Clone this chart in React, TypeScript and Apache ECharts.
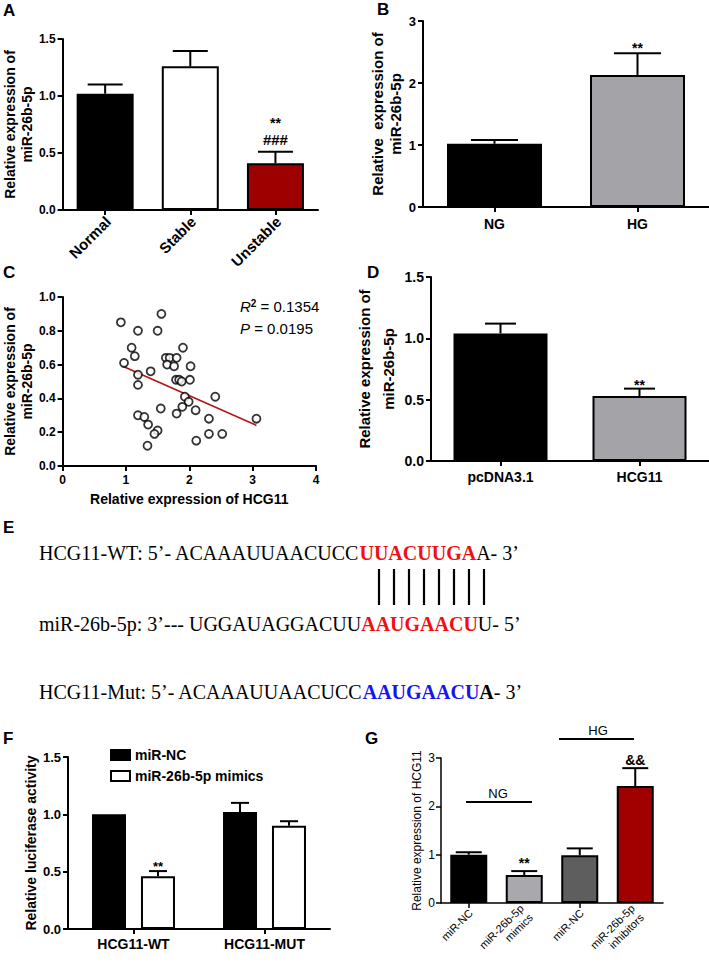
import React, { useEffect, useRef } from "react";
import * as echarts from "echarts";

// ---------- Panel A ----------
const aCats = ["Normal", "Stable", "Unstable"];
const aMeans = [1.02, 1.26, 0.41];
const aErrs = [0.08, 0.135, 0.1];
const aSigTop = ["", "", "**"];
const aSigLow = ["", "", "###"];

// ---------- Panel B ----------
const bCats = ["NG", "HG"];
const bMeans = [1.02, 2.13];
const bErrs = [0.06, 0.35];
const bSig = ["", "**"];

// ---------- Panel C ----------
const cX = [0.92, 1.56, 1.19, 1.5, 1.09, 1.9, 1.14, 0.97, 1.63, 1.69, 1.8, 1.65, 1.76, 2.02, 1.19, 1.39, 1.19, 1.79, 1.84, 1.88, 2.01, 1.93, 1.99, 2.41, 1.55, 1.8, 1.89, 2.1, 1.19, 1.29, 2.31, 1.35, 1.5, 1.45, 2.31, 2.52, 2.11, 1.34, 3.06];
const cY = [0.85, 0.9, 0.8, 0.8, 0.7, 0.7, 0.65, 0.61, 0.64, 0.64, 0.64, 0.6, 0.59, 0.59, 0.54, 0.56, 0.48, 0.51, 0.51, 0.5, 0.51, 0.41, 0.38, 0.41, 0.34, 0.31, 0.35, 0.33, 0.3, 0.29, 0.28, 0.245, 0.21, 0.19, 0.19, 0.19, 0.15, 0.12, 0.28];
const cFitX = [0.95, 3.06];
const cFitY = [0.59, 0.24];
const cR2 = "0.1354";
const cP = "0.0195";

// ---------- Panel D ----------
const dCats = ["pcDNA3.1", "HCG11"];
const dMeans = [1.04, 0.53];
const dErrs = [0.08, 0.06];
const dSig = ["", "**"];

// ---------- Panel E ----------
const seqWT = ["HCG11-WT: 5\u2019- ACAAAUUAACUCC", "UUACUUGA", "A- 3\u2019"];
const seqMiR = ["miR-26b-5p: 3\u2019--- UGGAUAGGACUU", "AAUGAACU", "U- 5\u2019"];
const seqMut = ["HCG11-Mut: 5\u2019- ACAAAUUAACUCC", "AAUGAACU", "A", "- 3\u2019"];
const pairCount = 8;

// ---------- Panel F ----------
const fCats = ["HCG11-WT", "HCG11-MUT"];
const fSeries = ["miR-NC", "miR-26b-5p mimics"];
const fNC = [1.0, 1.02];
const fNCErr = [0, 0.08];
const fMim = [0.46, 0.9];
const fMimErr = [0.045, 0.04];
const fSig = ["**", ""];

// ---------- Panel G ----------
const gCats = ["miR-NC", "miR-26b-5p\nmimics", "miR-NC", "miR-26b-5p\ninhibitors"];
const gMeans = [1.0, 0.58, 0.99, 2.42];
const gErrs = [0.05, 0.08, 0.14, 0.37];
const gSig = ["", "**", "", "&&"];
const gGroups = ["NG", "HG"];

const SANS = '"Liberation Sans", Arial, sans-serif';
const SERIF = '"Liberation Serif", "Times New Roman", serif';

function errSeries(name: string, idx: number, means: number[], errs: number[], opt: any) {
  return {
    type: "custom",
    name,
    xAxisIndex: idx,
    yAxisIndex: idx,
    silent: true,
    z: 5,
    clip: false,
    data: means.map((m, i) => [i, m, errs[i]]),
    renderItem: (params: any, api: any) => {
      const i = api.value(0);
      const m = api.value(1);
      const e = api.value(2);
      const b = api.coord([i, m]);
      const t = api.coord([i, m + e]);
      const x = b[0] + (opt.offset || 0);
      const lw = opt.lineWidth || 2;
      const ch: any[] = [];
      if (e > 0) {
        ch.push({ type: "line", shape: { x1: x, y1: b[1], x2: x, y2: t[1] }, style: { stroke: "#000", lineWidth: lw } });
        ch.push({ type: "line", shape: { x1: x - opt.cap / 2, y1: t[1], x2: x + opt.cap / 2, y2: t[1] }, style: { stroke: "#000", lineWidth: lw } });
      }
      (opt.labels || []).forEach((l: any) => {
        const s = l.texts[params.dataIndex];
        if (s) {
          ch.push({
            type: "text",
            style: { text: s, x, y: t[1] + l.dy, align: "center", verticalAlign: "middle", font: l.font, fill: "#000" },
          });
        }
      });
      return { type: "group", children: ch };
    },
  };
}

// rotated (45 deg) category labels placed through the axis scale
function rotLabels(name: string, idx: number, cats: string[], opt: any) {
  return {
    type: "custom",
    name,
    xAxisIndex: idx,
    yAxisIndex: idx,
    silent: true,
    clip: false,
    z: 6,
    data: cats.map((c, i) => [i, 0]),
    renderItem: (params: any, api: any) => {
      const p = api.coord([api.value(0), 0]);
      return {
        type: "text",
        x: p[0] + (opt.dx || 0),
        y: p[1] + opt.margin,
        rotation: Math.PI / 4,
        style: {
          text: cats[params.dataIndex],
          align: "right",
          verticalAlign: "middle",
          font: opt.font,
          lineHeight: opt.lineHeight,
          fill: "#000",
        },
      };
    },
  };
}

const axLine = (w = 2) => ({ show: true, onZero: false, lineStyle: { color: "#000", width: w } });
const axTick = (w = 2, len = 5, align = false) => ({ show: true, length: len, alignWithLabel: align, lineStyle: { color: "#000", width: w } });
const lbl = (size: number, weight: string, extra: any = {}) => ({
  color: "#000",
  fontFamily: SANS,
  fontWeight: weight,
  fontSize: size,
  ...extra,
});
const nameStyle = (size: number, weight: string, lh: number) => ({
  color: "#000",
  fontFamily: SANS,
  fontWeight: weight,
  fontSize: size,
  lineHeight: lh,
});

function buildOption() {
  const grids = [
    { left: 59, top: 39, width: 259, height: 171 }, // A
    { left: 423, top: 21, width: 286, height: 186 }, // B
    { left: 61, top: 297, width: 255, height: 169 }, // C
    { left: 431, top: 277, width: 278, height: 184 }, // D
    { left: 68, top: 757, width: 262, height: 172 }, // F
    { left: 441, top: 758, width: 222, height: 145 }, // G
  ];

  const catX = (gi: number, data: string[], label: any) => ({
    type: "category",
    gridIndex: gi,
    data,
    axisLine: axLine(gi === 5 ? 1.5 : 2),
    axisTick: axTick(gi === 5 ? 1.5 : 2, 5, true),
    axisLabel: label,
    splitLine: { show: false },
  });
  const valY = (gi: number, min: number, max: number, interval: number, dec: number, name: string, gap: number, ns: any, lab: any) => ({
    type: "value",
    gridIndex: gi,
    min,
    max,
    interval,
    axisLine: axLine(gi === 5 ? 1.5 : 2),
    axisTick: axTick(gi === 5 ? 1.5 : 2, 5),
    axisLabel: { ...lab, formatter: (v: number) => v.toFixed(dec) },
    splitLine: { show: false },
    name,
    nameLocation: "middle",
    nameGap: gap,
    nameTextStyle: ns,
  });

  const xAxis = [
    catX(0, aCats, { show: false }),
    catX(1, bCats, lbl(14, "bold", { margin: 10 })),
    {
      type: "value",
      gridIndex: 2,
      min: 0,
      max: 4,
      interval: 1,
      axisLine: axLine(2),
      axisTick: axTick(2, 5),
      axisLabel: lbl(12, "bold", { margin: 8 }),
      splitLine: { show: false },
      name: "Relative expression of HCG11",
      nameLocation: "middle",
      nameGap: 25,
      nameTextStyle: nameStyle(14, "bold", 16),
    },
    catX(3, dCats, lbl(14, "bold", { margin: 9 })),
    catX(4, fCats, lbl(14, "bold", { margin: 8 })),
    catX(5, gCats, { show: false }),
  ];

  const yAxis = [
    valY(0, 0, 1.5, 0.5, 1, "Relative expression of\nmiR-26b-5p", 25, nameStyle(14, "bold", 17), lbl(12, "bold", { margin: 7 })),
    valY(1, 0, 3, 1, 0, "Relative  expression of\nmiR-26b-5p", 17, nameStyle(15, "bold", 18.5), lbl(13, "bold", { margin: 7 })),
    valY(2, 0, 1, 0.2, 1, "Relative expression of\nmiR-26b-5p", 26, nameStyle(14, "bold", 17), lbl(12, "bold", { margin: 7 })),
    valY(3, 0, 1.5, 0.5, 1, "Relative expression of\nmiR-26b-5p", 25, nameStyle(15, "bold", 24), lbl(14, "bold", { margin: 7 })),
    valY(4, 0, 1.5, 0.5, 1, "Relative luciferase activity", 23, nameStyle(14, "bold", 16), lbl(13, "bold", { margin: 7 })),
    valY(5, 0, 3, 1, 0, "Relative expression of HCG11", 10, nameStyle(12, "normal", 14), lbl(12, "normal", { margin: 6 })),
  ];

  const aColors = ["#000000", "#ffffff", "#9e0000"];
  const bColors = ["#000000", "#a3a3a8"];
  const gColors = ["#000000", "#a8a8ad", "#5e5e5e", "#a00000"];
  const border = { borderColor: "#000", borderWidth: 2 };

  const series: any[] = [
    {
      type: "bar",
      name: "A-bars",
      xAxisIndex: 0,
      yAxisIndex: 0,
      barWidth: 57,
      data: aMeans.map((v, i) => ({ value: v, itemStyle: { color: aColors[i] } })),
      itemStyle: border,
    },
    errSeries("A-err", 0, aMeans, aErrs, {
      cap: 35,
      labels: [
        { texts: aSigTop, dy: -29, font: `bold 14px ${SANS}` },
        { texts: aSigLow, dy: -12, font: `bold 15px ${SANS}` },
      ],
    }),
    rotLabels("A-labels", 0, aCats, { margin: 9, dx: 3, font: `bold 15px ${SANS}` }),
    {
      type: "bar",
      name: "B-bars",
      xAxisIndex: 1,
      yAxisIndex: 1,
      barWidth: 95,
      data: bMeans.map((v, i) => ({ value: v, itemStyle: { color: bColors[i] } })),
      itemStyle: border,
    },
    errSeries("B-err", 1, bMeans, bErrs, { cap: 47, labels: [{ texts: bSig, dy: -5, font: `bold 14px ${SANS}` }] }),
    {
      type: "scatter",
      name: "C-points",
      xAxisIndex: 2,
      yAxisIndex: 2,
      symbol: "circle",
      symbolSize: 8,
      data: cX.map((x, i) => [x, cY[i]]),
      itemStyle: { color: "#ffffff", borderColor: "#000", borderWidth: 1.8 },
      z: 4,
    },
    {
      type: "line",
      name: "C-fit",
      xAxisIndex: 2,
      yAxisIndex: 2,
      symbol: "none",
      data: cFitX.map((x, i) => [x, cFitY[i]]),
      lineStyle: { color: "#b01515", width: 1.6 },
      z: 3,
    },
    {
      type: "bar",
      name: "D-bars",
      xAxisIndex: 3,
      yAxisIndex: 3,
      barWidth: 94,
      data: dMeans.map((v, i) => ({ value: v, itemStyle: { color: bColors[i] } })),
      itemStyle: border,
    },
    errSeries("D-err", 3, dMeans, dErrs, { cap: 31, labels: [{ texts: dSig, dy: -4, font: `bold 14px ${SANS}` }] }),
    {
      type: "bar",
      name: fSeries[0],
      xAxisIndex: 4,
      yAxisIndex: 4,
      barWidth: 34,
      barGap: "44%",
      data: fNC,
      itemStyle: { color: "#000000", ...border },
    },
    {
      type: "bar",
      name: fSeries[1],
      xAxisIndex: 4,
      yAxisIndex: 4,
      barWidth: 34,
      barGap: "44%",
      data: fMim,
      itemStyle: { color: "#ffffff", ...border },
    },
    errSeries("F-err-nc", 4, fNC, fNCErr, { cap: 18, offset: -24.5 }),
    errSeries("F-err-mim", 4, fMim, fMimErr, { cap: 18, offset: 24.5, labels: [{ texts: fSig, dy: -5, font: `bold 13px ${SANS}` }] }),
    {
      type: "bar",
      name: "G-bars",
      xAxisIndex: 5,
      yAxisIndex: 5,
      barWidth: 37,
      data: gMeans.map((v, i) => ({ value: v, itemStyle: { color: gColors[i] } })),
      itemStyle: border,
    },
    errSeries("G-err", 5, gMeans, gErrs, {
      cap: 26,
      lineWidth: 2,
      labels: [{ texts: gSig, dy: -8, font: `bold 14px ${SANS}` }],
    }),
    rotLabels("G-labels", 5, gCats, { margin: 8, dx: 2, font: `11px ${SANS}`, lineHeight: 13 }),
  ];

  const letter = (t: string, x: number, y: number) => ({
    type: "text",
    x,
    y,
    style: { text: t, font: `bold 17px ${SANS}`, fill: "#000", verticalAlign: "middle", align: "left" },
  });

  const richE = {
    n: { fontFamily: SERIF, fontSize: 20, fill: "#000" },
    r: { fontFamily: SERIF, fontSize: 20, fontWeight: "bold", fill: "#ee1111" },
    bl: { fontFamily: SERIF, fontSize: 20, fontWeight: "bold", fill: "#1515ee" },
    bk: { fontFamily: SERIF, fontSize: 20, fontWeight: "bold", fill: "#000" },
  };
  const seqText = (txt: string, y: number) => ({
    type: "text",
    x: 39,
    y,
    style: { text: txt, rich: richE, verticalAlign: "middle", align: "left", font: `20px ${SERIF}`, fill: "#000" },
  });

  const pairLines: any[] = [];
  for (let i = 0; i < pairCount; i++) {
    const x = 379 + i * 15;
    pairLines.push({ type: "line", shape: { x1: x, y1: 569, x2: x, y2: 605 }, style: { stroke: "#000", lineWidth: 2.2 } });
  }

  const graphic: any[] = [
    letter("A", 3, 10),
    letter("B", 377, 9),
    letter("C", 3, 272),
    letter("D", 367, 272),
    letter("E", 3, 527),
    letter("F", 3, 738),
    letter("G", 365, 738),
    {
      type: "text",
      x: 240,
      y: 306,
      style: {
        text: `{i|R}{s|2}{n| = ${cR2}}`,
        rich: {
          i: { fontFamily: SANS, fontSize: 15, fontStyle: "italic", fill: "#000" },
          s: { fontFamily: SANS, fontSize: 10, fontWeight: "bold", fill: "#000", verticalAlign: "top" },
          n: { fontFamily: SANS, fontSize: 15, fill: "#000" },
        },
        verticalAlign: "middle",
      },
    },
    {
      type: "text",
      x: 240,
      y: 328,
      style: {
        text: `{i|P}{n| = ${cP}}`,
        rich: {
          i: { fontFamily: SANS, fontSize: 15, fontStyle: "italic", fill: "#000" },
          n: { fontFamily: SANS, fontSize: 15, fill: "#000" },
        },
        verticalAlign: "middle",
      },
    },
    seqText(`{n|${seqWT[0]}}{r|${seqWT[1]}}{n|${seqWT[2]}}`, 553),
    ...pairLines,
    seqText(`{n|${seqMiR[0]}}{r|${seqMiR[1]}}{n|${seqMiR[2]}}`, 624),
    seqText(`{n|${seqMut[0]}}{bl|${seqMut[1]}}{bk|${seqMut[2]}}{n|${seqMut[3]}}`, 692),
    // G group brackets
    { type: "line", shape: { x1: 466, y1: 802, x2: 532, y2: 802 }, style: { stroke: "#000", lineWidth: 2 } },
    { type: "text", x: 498, y: 793, style: { text: gGroups[0], font: `13px ${SANS}`, fill: "#000", align: "center", verticalAlign: "middle" } },
    { type: "line", shape: { x1: 559, y1: 739, x2: 634, y2: 739 }, style: { stroke: "#000", lineWidth: 2 } },
    { type: "text", x: 598, y: 730, style: { text: gGroups[1], font: `13px ${SANS}`, fill: "#000", align: "center", verticalAlign: "middle" } },
  ];

  return {
    animation: false,
    backgroundColor: "#ffffff",
    grid: grids,
    xAxis,
    yAxis,
    legend: {
      data: fSeries,
      left: 105,
      top: 743,
      orient: "vertical",
      itemWidth: 19,
      itemHeight: 10,
      itemGap: 7,
      icon: "rect",
      textStyle: { fontFamily: SANS, fontWeight: "bold", fontSize: 14, color: "#000" },
    },
    series,
    graphic,
  };
}

export default function App() {
  const ref = useRef<HTMLDivElement>(null);
  useEffect(() => {
    if (!ref.current) return;
    const chart = echarts.init(ref.current, undefined, { renderer: "svg" });
    chart.setOption(buildOption() as any);
    return () => chart.dispose();
  }, []);
  return <div ref={ref} style={{ position: "absolute", left: 0, top: 0, width: 709, height: 966, background: "#fff" }} />;
}
